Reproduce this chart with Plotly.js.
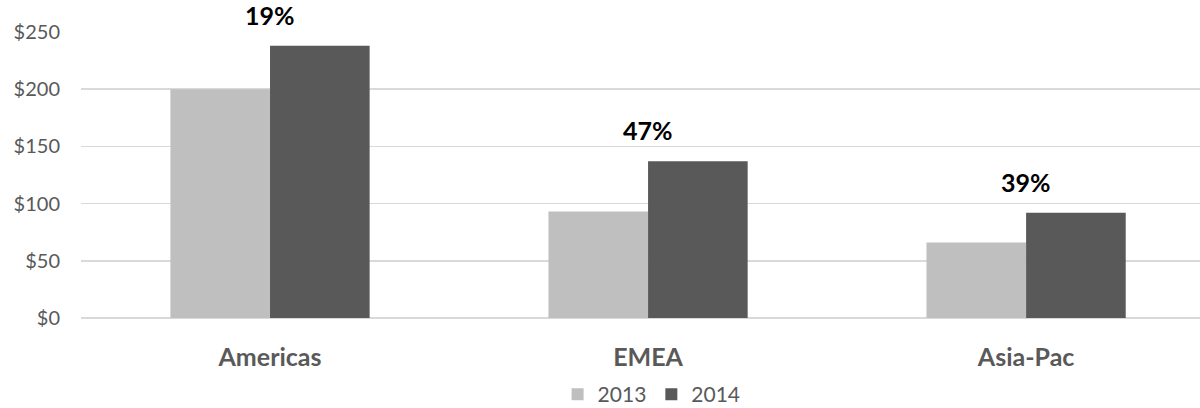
<!DOCTYPE html>
<html>
<head>
<meta charset="utf-8">
<script src="https://cdn.plot.ly/plotly-3.0.1.min.js"></script>
<style>html,body{margin:0;padding:0;background:#fff;}#chart{width:1200px;height:408px;}</style>
</head>
<body>
<div id="chart"></div>
<script>
const regions = ["Americas", "EMEA", "Asia-Pac"];
const sales2013 = [200, 93, 66];
const sales2014 = [238, 137, 92];
const growthLabels = ["19%", "47%", "39%"];
const yTickVals = [0, 50, 100, 150, 200, 250];
const yTickText = ["$0", "$50", "$100", "$150", "$200", "$250"];

const FONT = "Lato, 'Open Sans', sans-serif";

const traces = [
  {type: "bar", name: "2013", x: regions, y: sales2013, marker: {color: "#BFBFBF"}, hoverinfo: "none"},
  {type: "bar", name: "2014", x: regions, y: sales2014, marker: {color: "#595959"}, hoverinfo: "none"}
];

const annotations = regions.map((r, i) => ({
  x: r, y: sales2014[i], xref: "x", yref: "y",
  text: "<b>" + growthLabels[i] + "</b>",
  showarrow: false, yanchor: "bottom", yshift: 14,
  font: {family: FONT, size: 25, color: "#000000"}
}));

const layout = {
  width: 1200, height: 408,
  margin: {l: 81, r: 0, t: 32, b: 90},
  paper_bgcolor: "#ffffff", plot_bgcolor: "#ffffff",
  barmode: "group", bargap: 0.473, bargroupgap: 0,
  font: {family: FONT, color: "#595959"},
  xaxis: {
    range: [-0.5, 2.46], showgrid: false, zeroline: false, showline: false,
    ticks: "", ticklabelstandoff: 22,
    tickfont: {family: FONT, size: 25, color: "#595959", weight: "bold"}
  },
  yaxis: {
    range: [0, 250], tickvals: yTickVals, ticktext: yTickText,
    showgrid: true, gridcolor: "#D9D9D9", gridwidth: 1.5,
    zeroline: true, zerolinecolor: "#D9D9D9", zerolinewidth: 1.5,
    showline: false, ticks: "", ticklabelstandoff: 20,
    tickfont: {family: FONT, size: 20, color: "#595959"}
  },
  showlegend: true,
  legend: {
    orientation: "h", xref: "container", x: 0.543, xanchor: "center",
    yref: "container", y: 0.033, yanchor: "middle",
    font: {family: FONT, size: 21, color: "#595959"},
    itemwidth: 30, tracegroupgap: 0
  },
  annotations: annotations
};

Plotly.newPlot("chart", traces, layout, {displayModeBar: false, staticPlot: true});
</script>
</body>
</html>
